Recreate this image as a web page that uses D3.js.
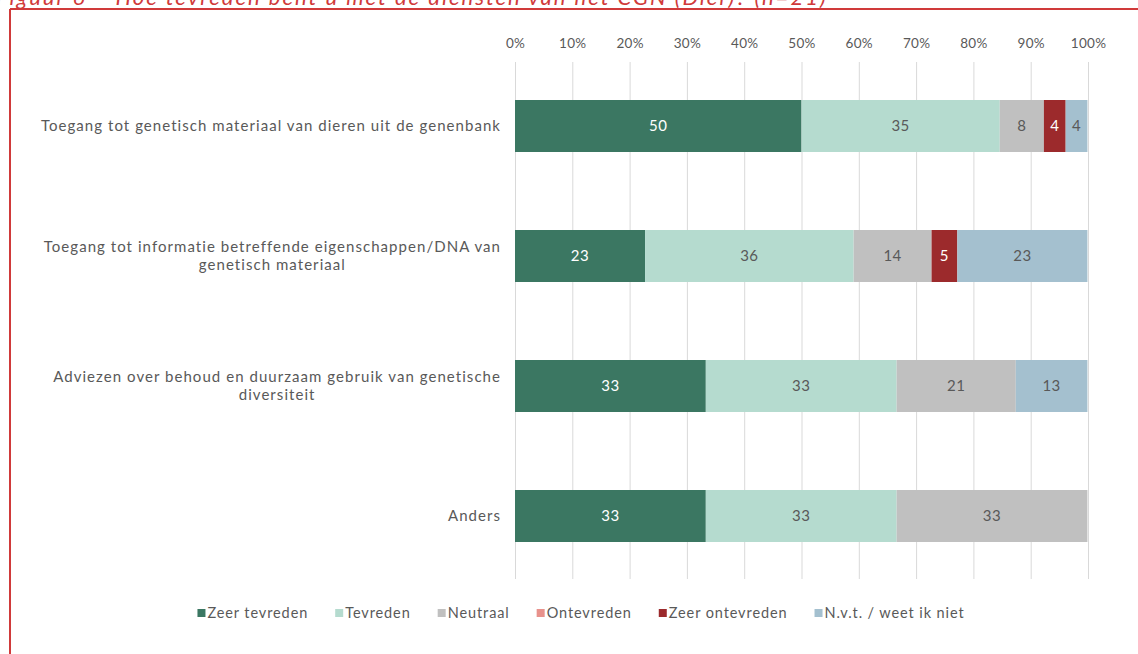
<!DOCTYPE html>
<html>
<head>
<meta charset="utf-8">
<script src="https://cdn.jsdelivr.net/npm/d3@7"></script>
<style>
  html, body { margin: 0; padding: 0; background: #fff; }
  svg { display: block; }
  text { font-family: "Lato", "Open Sans", sans-serif; }
</style>
</head>
<body>
<svg id="chart" width="1138" height="654"></svg>
<script>
// ---- Data ----
const title = "Figuur 6 – Hoe tevreden bent u met de diensten van het CGN (Dier)? (n=21)";
const categories = [
  "Toegang tot genetisch materiaal van dieren uit de genenbank",
  "Toegang tot informatie betreffende eigenschappen/DNA van\ngenetisch materiaal",
  "Adviezen over behoud en duurzaam gebruik van genetische\ndiversiteit",
  "Anders"
];
const seriesNames = ["Zeer tevreden", "Tevreden", "Neutraal", "Ontevreden", "Zeer ontevreden", "N.v.t. / weet ik niet"];
const zeerTevreden   = [50.0, 22.7, 33.3, 33.3];
const tevreden       = [34.6, 36.4, 33.3, 33.3];
const neutraal       = [7.7, 13.6, 20.8, 33.3];
const ontevreden     = [0, 0, 0, 0];
const zeerOntevreden = [3.8, 4.5, 0, 0];
const nvt            = [3.8, 22.7, 12.5, 0];
const tickLabels = ["0%", "10%", "20%", "30%", "40%", "50%", "60%", "70%", "80%", "90%", "100%"];

const seriesValues = [zeerTevreden, tevreden, neutraal, ontevreden, zeerOntevreden, nvt];
const colors = ["#3b7762", "#b5dbcf", "#c0c0c0", "#e8928c", "#9c2a2c", "#a4c0cf"];
const labelColors = ["#ffffff", "#595959", "#595959", "#595959", "#ffffff", "#595959"];

// ---- Build table ----
const table = categories.map((c, i) => {
  const row = { category: c };
  seriesNames.forEach((s, j) => row[s] = seriesValues[j][i]);
  return row;
});
const stacked = d3.stack().keys(seriesNames)(table);

const svg = d3.select("#chart");

// frame (red border, left + top)
svg.append("line").attr("x1", 10).attr("x2", 1138).attr("y1", 9).attr("y2", 9)
  .attr("stroke", "#d03a3a").attr("stroke-width", 2);
svg.append("line").attr("x1", 10).attr("x2", 10).attr("y1", 9).attr("y2", 654)
  .attr("stroke", "#d03a3a").attr("stroke-width", 2);

// title (cut off at top, as in the reference)
svg.append("text").attr("x", -4).attr("y", 5)
  .attr("font-size", 22).attr("font-style", "italic").attr("fill", "#d03a3a")
  .attr("letter-spacing", 2)
  .text(title);

const x = d3.scaleLinear().domain([0, 100]).range([515, 1088]);
const y = d3.scaleBand().domain(categories).range([61, 581]).paddingInner(0.6).paddingOuter(0.3);

// gridlines
const ticks = d3.range(0, 101, 10);
svg.append("g").selectAll("line").data(ticks).join("line")
  .attr("x1", d => x(d) + 0.5).attr("x2", d => x(d) + 0.5)
  .attr("y1", 62).attr("y2", 579)
  .attr("stroke", "#d9d9d9").attr("stroke-width", 1);

// top axis labels
const axis = d3.axisTop(x).tickValues(ticks).tickFormat((d, i) => tickLabels[i]).tickSize(0).tickPadding(0);
const gAxis = svg.append("g").attr("transform", "translate(0,48)").call(axis);
gAxis.select(".domain").remove();
gAxis.selectAll("text").attr("font-size", 13.5).attr("fill", "#595959")
  .attr("letter-spacing", 0.3)
  .style("font-family", "Lato, 'Open Sans', sans-serif");

// bars
const layers = svg.append("g").selectAll("g").data(stacked).join("g")
  .attr("fill", (d, i) => colors[i]);
layers.selectAll("rect").data(d => d.map(v => ({ v, cat: v.data.category }))).join("rect")
  .attr("x", d => x(d.v[0]))
  .attr("width", d => Math.max(0, x(d.v[1]) - x(d.v[0])))
  .attr("y", d => y(d.cat))
  .attr("height", y.bandwidth());

// segment labels
const fmt = d3.format(".0f");
stacked.forEach((layer, i) => {
  svg.append("g").selectAll("text").data(layer.filter(v => v[1] - v[0] > 0)).join("text")
    .attr("x", d => (x(d[0]) + x(d[1])) / 2)
    .attr("y", d => y(d.data.category) + y.bandwidth() / 2)
    .attr("dy", "0.35em")
    .attr("text-anchor", "middle")
    .attr("font-size", 15)
    .attr("letter-spacing", 0.5)
    .attr("fill", labelColors[i])
    .text(d => fmt(d[1] - d[0]));
});

// category labels
const catG = svg.append("g");
categories.forEach(c => {
  const lines = c.split("\n");
  const cy = y(c) + y.bandwidth() / 2;
  const lh = 18;
  const t = catG.append("text").attr("font-size", 15).attr("fill", "#595959")
    .attr("letter-spacing", 1.05);
  const spans = lines.map((l, k) => t.append("tspan").text(l)
    .attr("y", cy + (k - (lines.length - 1) / 2) * lh).attr("dy", "0.35em"));
  const widths = spans.map(s => s.node().getComputedTextLength());
  const maxW = d3.max(widths);
  const right = 501;
  spans.forEach(s => s.attr("x", right - maxW / 2).attr("text-anchor", "middle"));
});

// legend
const legend = svg.append("g");
const gap = 27;
let lx = 0;
seriesNames.forEach((s, i) => {
  const g = legend.append("g").attr("transform", `translate(${lx},0)`);
  g.append("rect").attr("x", 0).attr("y", -4).attr("width", 8).attr("height", 8).attr("fill", colors[i]);
  const t = g.append("text").attr("x", 10).attr("y", 0).attr("dy", "0.35em")
    .attr("font-size", 14.5).attr("fill", "#595959").attr("letter-spacing", 0.9).text(s);
  const w = t.node().getComputedTextLength();
  lx += 10 + w + gap;
});
const totalW = lx - gap;
legend.attr("transform", `translate(${581 - totalW / 2},613)`);
</script>
</body>
</html>
